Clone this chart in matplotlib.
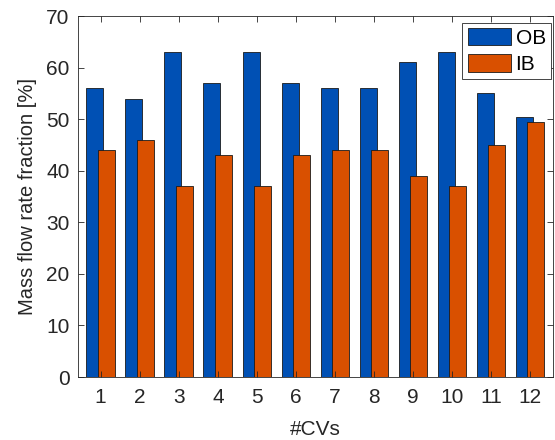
import matplotlib
matplotlib.use("Agg")
import matplotlib.pyplot as plt
import numpy as np

cvs = np.arange(1, 13)
ob = [56, 54, 63, 57, 63, 57, 56, 56, 61, 63, 55, 50.5]
ib = [44, 46, 37, 43, 37, 43, 44, 44, 39, 37, 45, 49.5]

plt.rcParams["font.family"] = ["Liberation Sans", "DejaVu Sans"]
txt = "#262626"

fig = plt.figure(figsize=(5.55, 4.4), dpi=100)
ax = fig.add_axes([78 / 555, 1 - 377 / 440, (553 - 78) / 555, (377 - 16) / 440])

w = 0.435
ax.bar(cvs - 0.15, ob, width=w, color="#0050b4", edgecolor="#1a1a1a", linewidth=0.6, label="OB")
ax.bar(cvs + 0.14, ib, width=w, color="#d95000", edgecolor="#1a1a1a", linewidth=0.6, label="IB")

ax.set_xlim(0.42, 12.58)
ax.set_ylim(0, 70)
ax.set_xticks(cvs)
ax.set_yticks(np.arange(0, 71, 10))
ax.tick_params(direction="in", top=True, right=True, labelsize=15, colors=txt,
               length=4, width=0.6)
ax.tick_params(axis="x", pad=8)
ax.tick_params(axis="y", pad=6)
for s in ax.spines.values():
    s.set_linewidth(0.6)
    s.set_color(txt)
ax.set_xlabel("#CVs", fontsize=15, color=txt, labelpad=9)
ax.set_ylabel("Mass flow rate fraction [%]", fontsize=14.5, color=txt, labelpad=7)

leg = ax.legend(loc="upper right", bbox_to_anchor=(551 / 555, 1 - 23 / 440),
                bbox_transform=fig.transFigure, fontsize=15,
                handlelength=2.1, handleheight=0.9, fancybox=False, framealpha=1,
                edgecolor=txt, borderaxespad=0, handletextpad=0.2,
                labelspacing=0.3, borderpad=0.25)
leg.get_frame().set_linewidth(0.6)

fig.savefig("out.png", dpi=100)
